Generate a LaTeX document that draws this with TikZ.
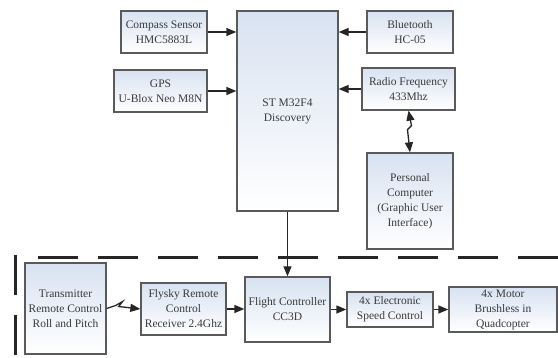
\documentclass[tikz,border=0pt]{standalone}
\usepackage{fontspec}
\setmainfont{Liberation Serif}
\usepackage{tikz}
\usetikzlibrary{arrows.meta}

\definecolor{rand}{HTML}{5A5A5A}
\definecolor{schrift}{HTML}{3A3A3A}
\definecolor{oben}{HTML}{D8E2F1}

\tikzset{
  blk/.style={draw=rand, line width=1.3pt, top color=oben, bottom color=white,
    align=center, inner sep=0pt, text=schrift,
    font=\fontsize{11.5}{15}\selectfont},
  pfeil/.style={-{Triangle[length=10pt,width=8pt]}, line width=1.3pt, draw=black!85},
  trenn/.style={line width=3pt, dash pattern=on 40pt off 20pt, black!85}
}

\begin{document}
\begin{tikzpicture}[x=1pt,y=-1pt]
\useasboundingbox (0,0) rectangle (558,358);

% Oberer Teil
\node[blk, minimum width=101pt, minimum height=200pt] (stm) at (287.5,111) {ST M32F4\\Discovery};
\node[blk, minimum width=86pt, minimum height=42pt] (compass) at (164,32) {Compass Sensor\\HMC5883L};
\node[blk, minimum width=93pt, minimum height=42pt] (gps) at (160.5,91) {GPS\\U-Blox Neo M8N};
\node[blk, minimum width=86pt, minimum height=42pt] (bt) at (410,32) {Bluetooth\\HC-05};
\node[blk, minimum width=93pt, minimum height=42pt] (radio) at (408.5,89) {Radio Frequency\\433Mhz};
\node[blk, minimum width=86pt, minimum height=96pt] (pc) at (410,201) {Personal\\Computer\\(Graphic User\\Interface)};

% Unterer Teil
\node[blk, minimum width=81pt, minimum height=91pt] (tx) at (65.5,308.5) {Transmitter\\Remote Control\\Roll and Pitch};
\node[blk, minimum width=85pt, minimum height=52pt] (flysky) at (183.5,309) {Flysky Remote\\Control\\Receiver 2.4Ghz};
\node[blk, minimum width=85pt, minimum height=65pt] (fc) at (287.5,309.5) {Flight Controller\\CC3D};
\node[blk, minimum width=86pt, minimum height=35pt] (esc) at (390,309.5) {4x Electronic\\Speed Control};
\node[blk, minimum width=108pt, minimum height=45pt] (motor) at (503,309.5) {4x Motor\\Brushless in\\Quadcopter};

% Pfeile
\draw[pfeil] (compass.east) -- (compass.east -| stm.west);
\draw[pfeil] (gps.east) -- (gps.east -| stm.west);
\draw[pfeil] (bt.west) -- (bt.west -| stm.east);
\draw[pfeil] (radio.west) -- (radio.west -| stm.east);
\draw[pfeil] (stm.south) -- (fc.north);
\draw[pfeil] (flysky.east) -- (flysky.east -| fc.west);
\draw[pfeil] (fc.east) -- (fc.east -| esc.west);
\draw[pfeil] (esc.east) -- (esc.east -| motor.west);

% Funkstrecken
\draw[pfeil, {Triangle[length=10pt,width=8pt]}-{Triangle[length=10pt,width=8pt]}]
  (radio.south) -- ++(3,15) -- ++(-4,4) -- (pc.north);
\draw[pfeil] (tx.east) -- ++(9,-3) -- ++(7,-4) -- ++(-4,5) -- (flysky.west);

% Trennlinien
\draw[trenn] (38,258) -- (558,258);
\draw[trenn] (15,255) -- (15,358);

\end{tikzpicture}
\end{document}
